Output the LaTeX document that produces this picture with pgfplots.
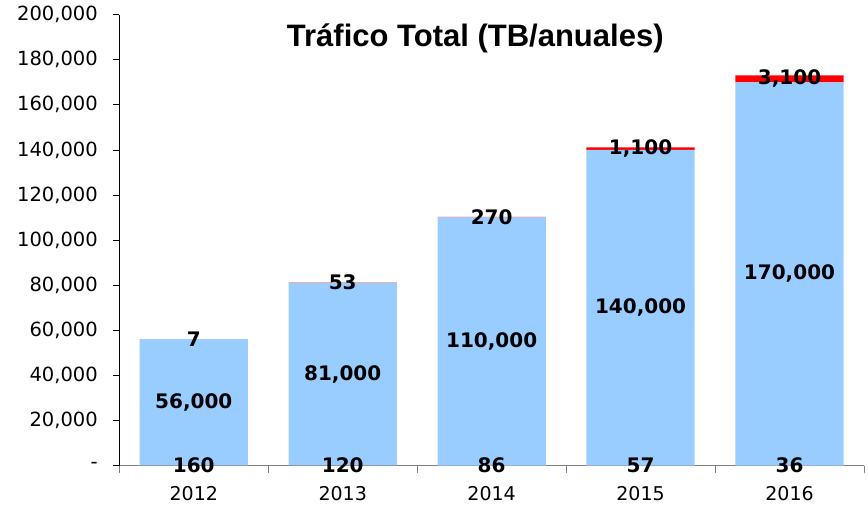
\documentclass[border=0pt]{standalone}
\usepackage{pgfplots}
\pgfplotsset{compat=1.18}
\usepackage{pgfplotstable}
\usepackage{fontspec}
\setmainfont{DejaVu Sans}
\newfontfamily\arialfont{Liberation Sans}
\definecolor{barblue}{HTML}{99CCFF}
\definecolor{barred}{HTML}{FF0000}
\definecolor{axgray}{HTML}{808080}

\pgfplotstableread{
x bottom mid top
0 160 56000 7
1 120 81000 53
2 86 110000 270
3 57 140000 1100
4 36 170000 3100
}\datatable

\pgfplotsset{
  common/.style={
    scale only axis, width=744.7pt, height=451pt,
    xmin=-0.5, xmax=4.5, ymin=0, ymax=200000,
  },
  lbl/.style={
    draw=none, mark=none,
    point meta=explicit,
    nodes near coords={\pgfmathprintnumber[fixed,precision=0,1000 sep={,},assume math mode=true]{\pgfplotspointmeta}},
    every node near coord/.append style={anchor=center, inner sep=0pt,
      font=\bfseries\fontsize{20}{24}\selectfont, text=black},
  },
}

\begin{document}
\begin{tikzpicture}
\path[use as bounding box] (-119.3pt,-42.3pt) rectangle (748.7pt,465.7pt);
\begin{axis}[
  common,
  ybar stacked, bar width=108.3pt,
  axis x line*=bottom, axis y line*=left,
  axis line style={-},
  x axis line style={draw=axgray, line width=1.3pt},
  y axis line style={draw=black, line width=1pt},
  tick align=outside,
  scaled y ticks=false,
  ytick={0,20000,...,200000},
  yticklabels={-,{20,000},{40,000},{60,000},{80,000},{100,000},{120,000},{140,000},{160,000},{180,000},{200,000}},
  major tick length=6pt,
  ytick style={draw=black, line width=0.8pt},
  xtick={0,1,2,3,4},
  xticklabels={2012,2013,2014,2015,2016},
  major x tick style={draw=none},
  minor xtick={-0.5,0.5,1.5,2.5,3.5,4.5},
  minor tick length=7pt,
  minor x tick style={draw=axgray, line width=1pt},
  yticklabel style={font=\fontsize{19.5}{22}\selectfont, xshift=-12pt},
  xticklabel style={font=\fontsize{19}{22}\selectfont, yshift=-11pt},
  clip=false,
]
\addplot[draw=none, fill=none] table[x=x, y=bottom]{\datatable};
\addplot[draw=none, fill=barblue] table[x=x, y=mid]{\datatable};
\addplot[draw=none, fill=barred] table[x=x, y=top]{\datatable};
\node[font=\arialfont\bfseries\fontsize{31}{36}\selectfont] at (rel axis cs:0.478,0.948) {Tráfico Total (TB/anuales)};
\end{axis}
\begin{axis}[common, hide axis, clip=false]
\addplot[lbl] table[x=x, y expr=\thisrow{bottom}/2, meta=bottom]{\datatable};
\addplot[lbl] table[x=x, y expr=\thisrow{bottom}+\thisrow{mid}/2, meta=mid]{\datatable};
\addplot[lbl] table[x=x, y expr=\thisrow{bottom}+\thisrow{mid}+\thisrow{top}/2, meta=top]{\datatable};
\end{axis}
\end{tikzpicture}
\end{document}
